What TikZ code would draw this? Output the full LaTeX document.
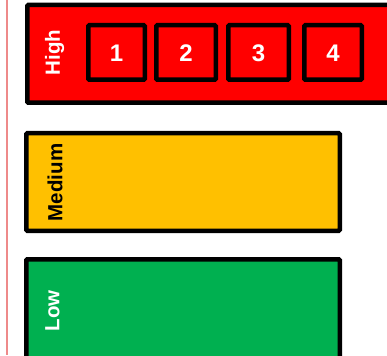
\documentclass[tikz,border=0pt]{standalone}
\usepackage{fontspec}
\setmainfont{Liberation Sans}
\definecolor{hired}{HTML}{FF0000}
\definecolor{medyel}{HTML}{FFC000}
\definecolor{lowgrn}{HTML}{00B050}
\definecolor{pinkline}{HTML}{EE8A8A}
\begin{document}
\begin{tikzpicture}[x=1pt,y=-1pt,
  band/.style={draw=black,line width=4.5pt,rounded corners=1pt},
  cell/.style={draw=black,line width=4.5pt,fill=hired,rounded corners=1pt},
  lvl/.style={rotate=90,font=\bfseries\fontsize{20.5}{20.5}\selectfont,inner sep=0pt},
  num/.style={text=white,font=\bfseries\fontsize{24}{24}\selectfont,inner sep=0pt}]
\useasboundingbox (0,0) rectangle (387,355);
\begin{scope}
\clip (0,0) rectangle (387,355);
\fill[white] (0,0) rectangle (387,355);
\draw[pinkline,line width=1.2pt] (7,0) -- (7,355);
% High band
\draw[band,fill=hired] (27.25,5) rectangle (400,102.75);
\node[lvl,text=white] (high) at (54.5,52.5) {High};
\draw[cell] (88.25,25.25) rectangle (144.75,79.75);
\draw[cell] (156.25,25.25) rectangle (215.75,79.75);
\draw[cell] (228.25,25.25) rectangle (288.75,79.75);
\draw[cell] (304.25,25.25) rectangle (361.75,79.75);
\node[num] (n1) at (116.5,53.5) {1};
\node[num] (n2) at (186,53.5) {2};
\node[num] (n3) at (258.5,53.5) {3};
\node[num] (n4) at (333,53.5) {4};
% Medium band
\draw[band,fill=medyel] (26.25,133.25) rectangle (339.75,230.75);
\node[lvl,text=black] (medium) at (55,182.5) {Medium};
% Low band
\draw[band,fill=lowgrn] (26.25,259.25) rectangle (339.75,380);
\node[lvl,text=white] (low) at (52.5,311) {Low};
\end{scope}
\end{tikzpicture}
\end{document}
